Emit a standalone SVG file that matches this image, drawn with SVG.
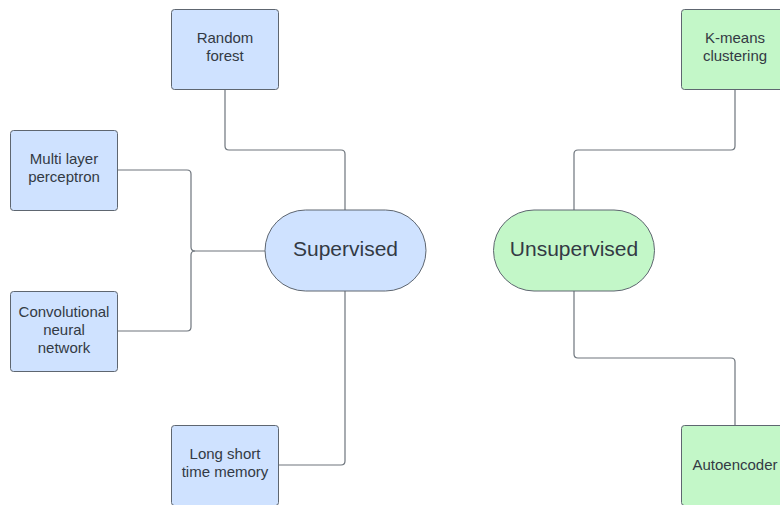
<svg xmlns="http://www.w3.org/2000/svg" width="780" height="505" viewBox="0 0 780 505">
  <style>
    .blue { fill: #cfe2ff; stroke: #5e6670; stroke-width: 1; }
    .green { fill: #c3f7c8; stroke: #5e6670; stroke-width: 1; }
    .lbl { font-family: "Liberation Sans", Arial, sans-serif; font-size: 15px; fill: #333a44; text-anchor: middle; }
    .big { font-family: "Liberation Sans", Arial, sans-serif; font-size: 21px; fill: #333a44; text-anchor: middle; }
    .wire { fill: none; stroke: #6e757d; stroke-width: 1.2; }
  </style>
  <rect width="780" height="505" fill="#ffffff"/>

  <g id="connectors">
    <!-- Random forest to Supervised -->
    <path class="wire" d="M225,89 V146 Q225,150 229,150 H341 Q345,150 345,154 V210"/>
    <!-- Multi layer perceptron to Supervised -->
    <path class="wire" d="M117,170 H187 Q191,170 191,174 V247 Q191,251 195,251 H265"/>
    <!-- Convolutional neural network to Supervised -->
    <path class="wire" d="M117,331 H187 Q191,331 191,327 V255 Q191,251 195,251"/>
    <!-- Supervised to LSTM -->
    <path class="wire" d="M345,291 V461 Q345,465 341,465 H279"/>
    <!-- Unsupervised to K-means -->
    <path class="wire" d="M574,210 V154 Q574,150 578,150 H731 Q735,150 735,146 V89"/>
    <!-- Unsupervised to Autoencoder -->
    <path class="wire" d="M574,291 V354 Q574,358 578,358 H731 Q735,358 735,362 V426"/>
  </g>

  <g id="supervised">
    <rect class="blue" x="265" y="210" width="161" height="81" rx="40.5"/>
    <text class="big" x="345.5" y="255.5">Supervised</text>
  </g>

  <g id="unsupervised">
    <rect class="green" x="493.5" y="210" width="161" height="81" rx="40.5"/>
    <text class="big" x="574" y="255.5">Unsupervised</text>
  </g>

  <g id="random-forest">
    <rect class="blue" x="171.5" y="9.5" width="107" height="80" rx="3"/>
    <text class="lbl" x="225" y="43">Random</text>
    <text class="lbl" x="225" y="61">forest</text>
  </g>

  <g id="multi-layer-perceptron">
    <rect class="blue" x="10.5" y="130.5" width="107" height="80" rx="3"/>
    <text class="lbl" x="64" y="164">Multi layer</text>
    <text class="lbl" x="64" y="182">perceptron</text>
  </g>

  <g id="convolutional-neural-network">
    <rect class="blue" x="10.5" y="291.5" width="107" height="80" rx="3"/>
    <text class="lbl" x="64" y="317">Convolutional</text>
    <text class="lbl" x="64" y="335">neural</text>
    <text class="lbl" x="64" y="353">network</text>
  </g>

  <g id="long-short-time-memory">
    <rect class="blue" x="171.5" y="425.5" width="107" height="80" rx="3"/>
    <text class="lbl" x="225" y="459">Long short</text>
    <text class="lbl" x="225" y="477">time memory</text>
  </g>

  <g id="k-means-clustering">
    <rect class="green" x="681.5" y="9.5" width="107" height="80" rx="3"/>
    <text class="lbl" x="735" y="43">K-means</text>
    <text class="lbl" x="735" y="61">clustering</text>
  </g>

  <g id="autoencoder">
    <rect class="green" x="681.5" y="425.5" width="107" height="80" rx="3"/>
    <text class="lbl" x="735" y="470">Autoencoder</text>
  </g>
</svg>
